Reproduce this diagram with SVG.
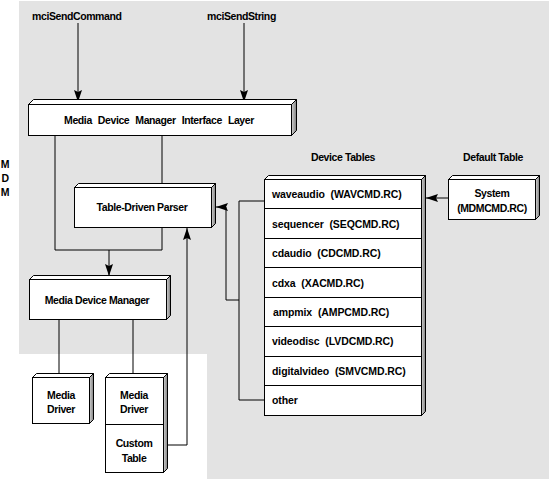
<svg xmlns="http://www.w3.org/2000/svg" width="550" height="480" viewBox="0 0 550 480">
<style>
text{font-family:"Liberation Sans",Arial,sans-serif;font-size:10.5px;font-weight:bold;fill:#000;letter-spacing:-0.4px}
.c{text-anchor:middle}
.row{letter-spacing:-0.1px;word-spacing:3px}
.front{fill:#fff;stroke:#000;stroke-width:1}
.top{fill:#fff;stroke:#000;stroke-width:1;stroke-linejoin:miter}
.side{fill:url(#sideg);stroke:#000;stroke-width:1}
.ln{fill:none;stroke:#000;stroke-width:1}
</style>
<defs>
<linearGradient id="sideg" x1="0" y1="0" x2="1" y2="0">
<stop offset="0" stop-color="#d0d0d0"/>
<stop offset="1" stop-color="#808080"/>
</linearGradient>
<marker id="ah" markerUnits="userSpaceOnUse" markerWidth="13" markerHeight="9" refX="12" refY="4.5" orient="auto">
<path d="M0,0.5 L12,4.5 L0,8.5 L2,4.5 Z" fill="#000"/>
</marker>
</defs>
<path d="M19,1 H549 V479 H207 V354 H19 Z" fill="#e3e3e3"/>
<g id="mdm-label">
<text class="c" x="5" y="168">M</text>
<text class="c" x="5" y="182">D</text>
<text class="c" x="5" y="196">M</text>
</g>
<g id="api-labels">
<text x="32" y="20">mciSendCommand</text>
<text x="207" y="20">mciSendString</text>
<text class="c" x="343" y="161">Device Tables</text>
<text class="c" x="493" y="161">Default Table</text>
</g>
<g id="connectors">
<path class="ln" d="M78,23 V102" marker-end="url(#ah)"/>
<path class="ln" d="M244,23 V102" marker-end="url(#ah)"/>
<path class="ln" d="M162,135 V184"/>
<path class="ln" d="M55,135 V250 H162 M162,227 V250"/>
<path class="ln" d="M109,250 V276" marker-end="url(#ah)"/>
<path class="ln" d="M265,201 H239 V400 H264"/>
<path class="ln" d="M239,300 H226 V207 H216" marker-end="url(#ah)"/>
<path class="ln" d="M167,445 H187 V228" marker-end="url(#ah)"/>
<path class="ln" d="M59,319 V374 M133,319 V374"/>
<path class="ln" d="M448,198 H426" marker-end="url(#ah)"/>
</g>
<g id="interface-layer">
<path class="top" d="M28.5,104.5 L33.5,99.5 H296.5 L291.5,104.5 Z"/>
<path class="side" d="M291.5,104.5 L296.5,99.5 V130.5 L291.5,135.5 Z"/>
<rect class="front" x="28.5" y="104.5" width="263" height="31"/>
<text class="c" x="159" y="124" style="word-spacing:3.5px">Media Device Manager Interface Layer</text>
</g>
<g id="parser">
<path class="top" d="M74.5,187.5 L78.5,183.5 H215.5 L211.5,187.5 Z"/>
<path class="side" d="M211.5,187.5 L215.5,183.5 V223.5 L211.5,227.5 Z"/>
<rect class="front" x="74.5" y="187.5" width="137" height="40"/>
<text class="c" x="142" y="211">Table-Driven Parser</text>
</g>
<g id="media-device-manager">
<path class="top" d="M29.5,279.5 L33.5,275.5 H170.5 L166.5,279.5 Z"/>
<path class="side" d="M166.5,279.5 L170.5,275.5 V315.5 L166.5,319.5 Z"/>
<rect class="front" x="29.5" y="279.5" width="137" height="40"/>
<text class="c" x="97" y="304">Media Device Manager</text>
</g>
<g id="media-driver-1">
<path class="top" d="M32.5,377.5 L36.5,373.5 H93.5 L89.5,377.5 Z"/>
<path class="side" d="M89.5,377.5 L93.5,373.5 V419.5 L89.5,423.5 Z"/>
<rect class="front" x="32.5" y="377.5" width="57" height="46"/>
<text class="c" x="61" y="399">Media</text>
<text class="c" x="61" y="413">Driver</text>
</g>
<g id="media-driver-2">
<path class="top" d="M105.5,377.5 L109.5,373.5 H167.5 L163.5,377.5 Z"/>
<path class="side" d="M163.5,377.5 L167.5,373.5 V468.5 L163.5,472.5 Z"/>
<rect class="front" x="105.5" y="377.5" width="58" height="95"/>
<line class="ln" x1="105.5" y1="424.5" x2="163.5" y2="424.5"/>
<text class="c" x="134" y="399">Media</text>
<text class="c" x="134" y="413">Driver</text>
<text class="c" x="134" y="447">Custom</text>
<text class="c" x="134" y="462">Table</text>
</g>
<g id="device-tables">
<path class="top" d="M264.5,179.5 L268.5,175.5 H425.5 L421.5,179.5 Z"/>
<path class="side" d="M421.5,179.5 L425.5,175.5 V411.5 L421.5,415.5 Z"/>
<rect class="front" x="264.5" y="179.5" width="157" height="236"/>
<path class="ln" d="M264.5,208.5 H421.5 M264.5,238.5 H421.5 M264.5,267.5 H421.5 M264.5,297.5 H421.5 M264.5,326.5 H421.5 M264.5,356.5 H421.5 M264.5,385.5 H421.5"/>
<text class="row" x="272" y="198">waveaudio (WAVCMD.RC)</text>
<text class="row" x="272" y="228">sequencer (SEQCMD.RC)</text>
<text class="row" x="272" y="257">cdaudio (CDCMD.RC)</text>
<text class="row" x="272" y="287">cdxa (XACMD.RC)</text>
<text class="row" x="273" y="316">ampmix (AMPCMD.RC)</text>
<text class="row" x="272" y="345">videodisc (LVDCMD.RC)</text>
<text class="row" x="272" y="375">digitalvideo (SMVCMD.RC)</text>
<text class="row" x="272" y="404">other</text>
</g>
<g id="system-table">
<path class="top" d="M448.5,179.5 L452.5,175.5 H539.5 L535.5,179.5 Z"/>
<path class="side" d="M535.5,179.5 L539.5,175.5 V215.5 L535.5,219.5 Z"/>
<rect class="front" x="448.5" y="179.5" width="87" height="40"/>
<text class="c" x="492" y="197">System</text>
<text class="c" x="492" y="212">(MDMCMD.RC)</text>
</g>
</svg>
